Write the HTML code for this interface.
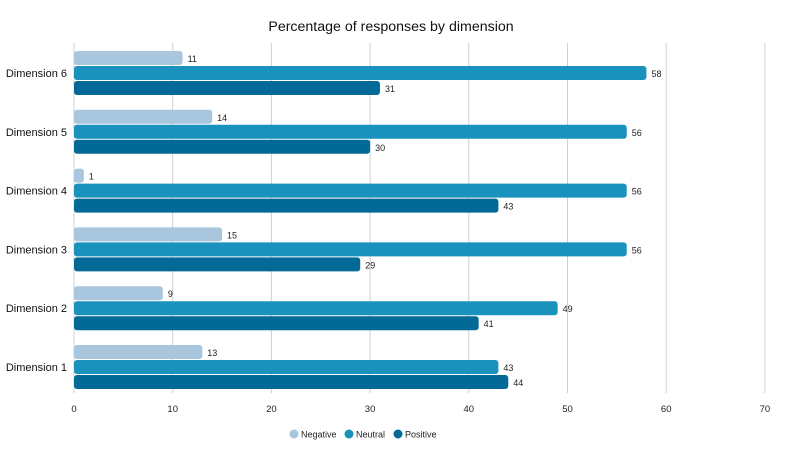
<!DOCTYPE html>
<html><head><meta charset="utf-8"><style>
body{margin:0;background:#fff;width:800px;height:447px;overflow:hidden;font-family:"Liberation Sans",sans-serif;}
</style></head><body>
<svg id="chart" width="800" height="447" xmlns="http://www.w3.org/2000/svg" font-family="Liberation Sans, sans-serif">
<text x="391" y="31" text-anchor="middle" font-size="14.2" fill="#111">Percentage of responses by dimension</text>
<g id="grid"></g><g id="bars"></g><g id="labels"></g>
<g>
 <g><circle cx="294" cy="434" r="4.5" fill="#a8c6dd"/><text x="301" y="437.5" font-size="9" fill="#222">Negative</text></g>
 <g><circle cx="349" cy="434" r="4.5" fill="#1a92bd"/><text x="356" y="437.5" font-size="9" fill="#222">Neutral</text></g>
 <g><circle cx="398" cy="434" r="4.5" fill="#036a98"/><text x="405" y="437.5" font-size="9" fill="#222">Positive</text></g>
</g>
</svg>
<script>
const categories=["Dimension 6","Dimension 5","Dimension 4","Dimension 3","Dimension 2","Dimension 1"];
const negative=[11,14,1,15,9,13];
const neutral=[58,56,56,56,49,43];
const positive=[31,30,43,29,41,44];
const xTicks=[0,10,20,30,40,50,60,70];
const NS="http://www.w3.org/2000/svg";
const x=v=>74+v*9.87;
const yc=i=>73+i*58.8;
function mk(tag,attrs,parent){const e=document.createElementNS(NS,tag);for(const k in attrs)e.setAttribute(k,attrs[k]);document.getElementById(parent).appendChild(e);return e;}
xTicks.forEach(t=>{
 const l=mk('line',{x1:x(t),x2:x(t),y1:43,y2:393,stroke:'#d0d0d0','stroke-width':1},'grid');
 
 
 const tx=mk('text',{x:x(t),y:412,'text-anchor':'middle','font-size':9.5,fill:'#222'},'labels');tx.textContent=t;
 
 
});
const series=[[negative,'#a8c6dd','negative',-22],[neutral,'#1a92bd','neutral',-7],[positive,'#036a98','positive',8]];
categories.forEach((c,i)=>{
 const lab=mk('text',{x:67,y:yc(i)+4,'text-anchor':'end','font-size':11,fill:'#111'},'labels');lab.textContent=c;
 
 
 series.forEach(([arr,col,nm,off])=>{
  const v=arr[i];
  const r=mk('rect',{x:x(0),y:yc(i)+off,width:Math.max(x(v)-x(0),3),height:14,rx:3,fill:col},'bars');
  
  
  const t=mk('text',{x:x(v)+5,y:yc(i)+off+11,'font-size':9,fill:'#222'},'labels');t.textContent=v;
  
  
 });
});
</script>
</body></html>
